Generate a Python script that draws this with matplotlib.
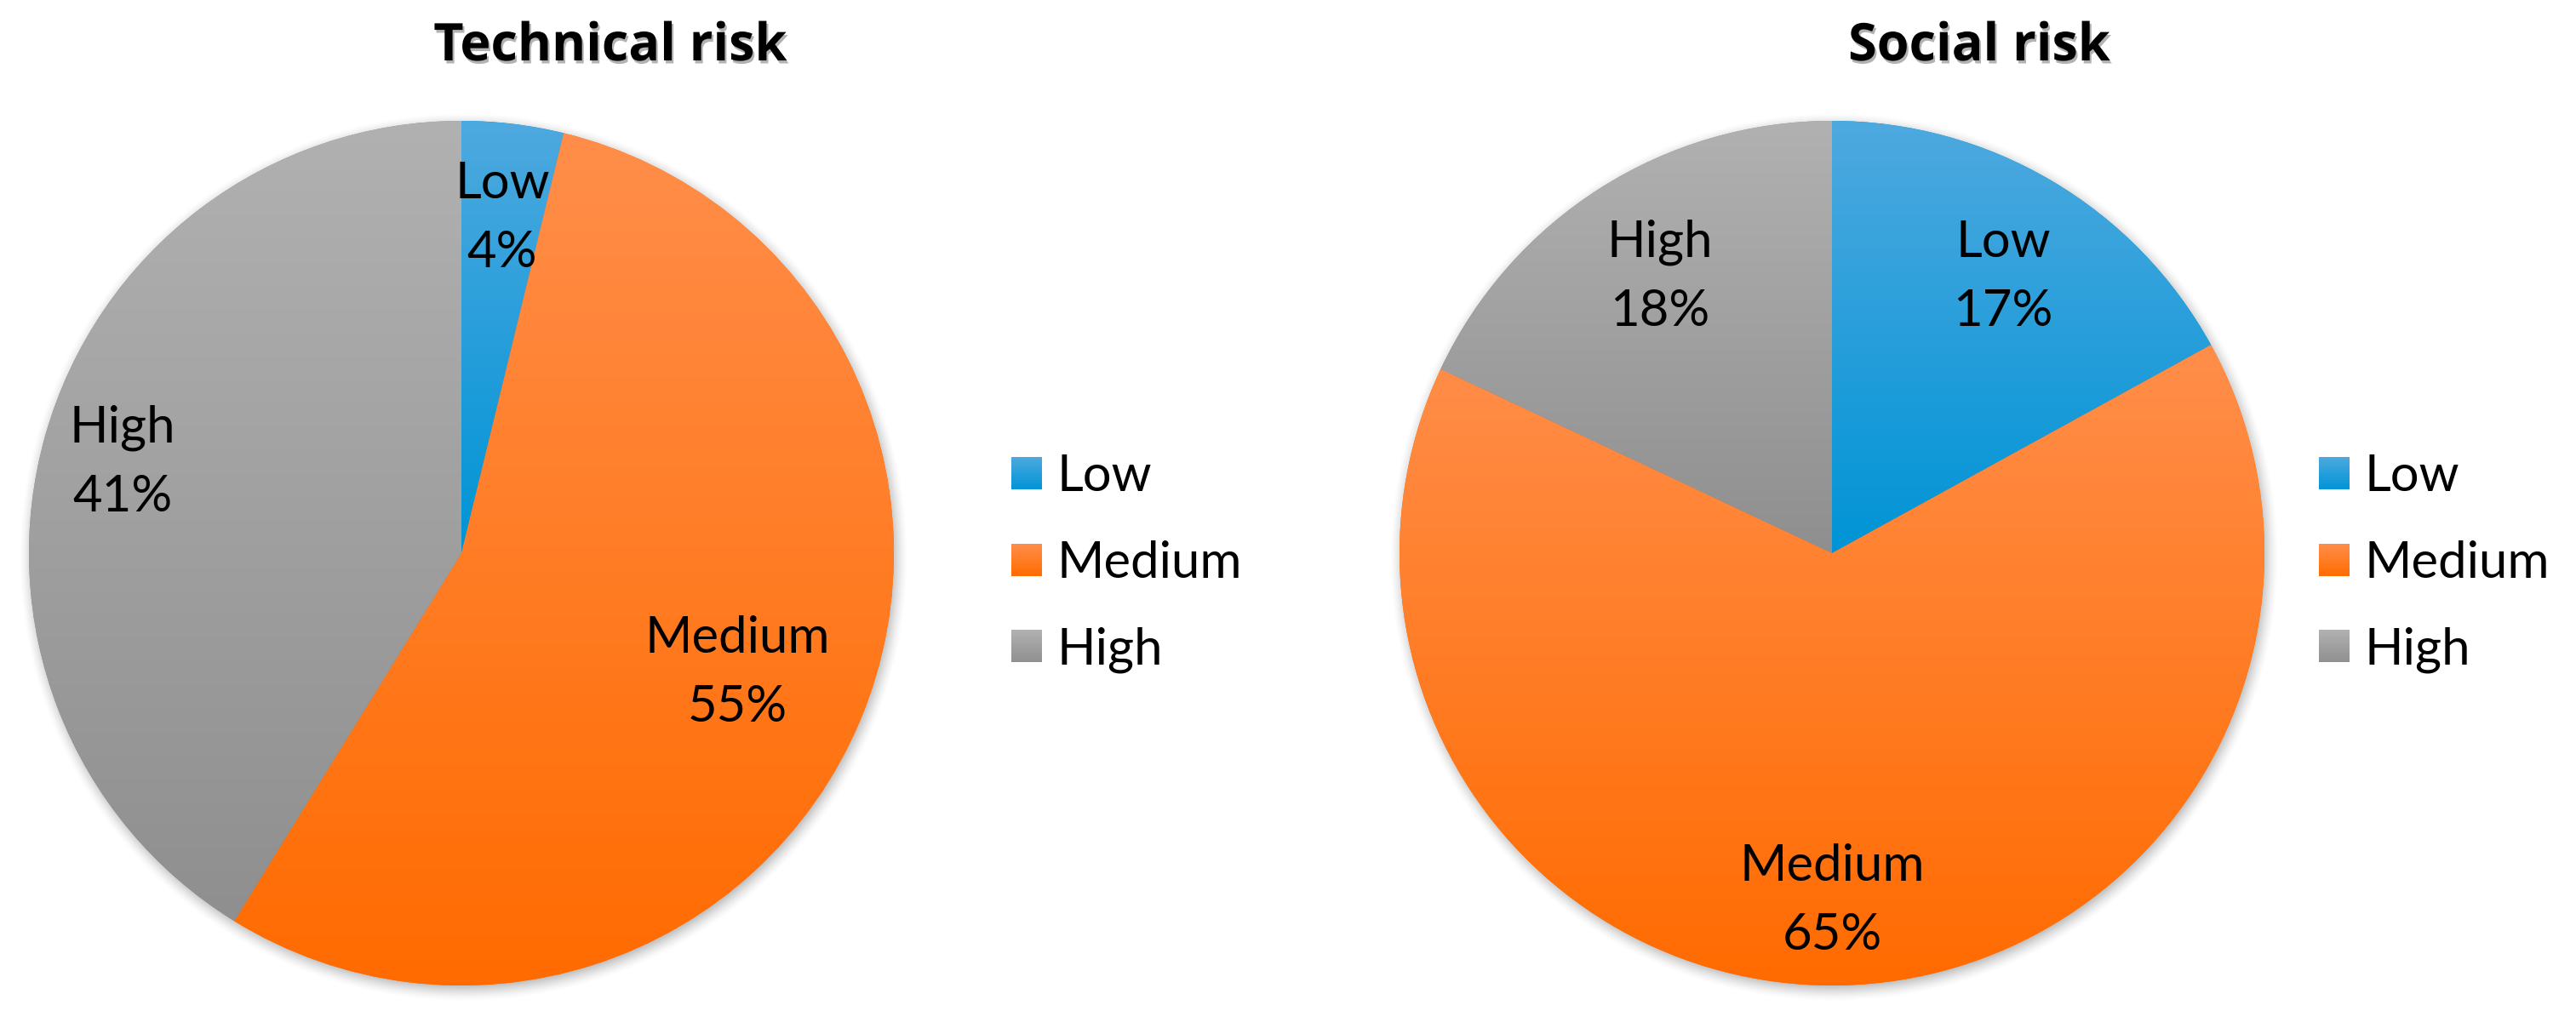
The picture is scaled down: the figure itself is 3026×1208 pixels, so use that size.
import numpy as np
import matplotlib
matplotlib.use('Agg')
import matplotlib.pyplot as plt
from matplotlib.patches import Rectangle
from matplotlib.legend_handler import HandlerBase
from matplotlib import patheffects as pe
from matplotlib.colors import to_rgb

# ---------------- data ----------------
categories = ['Low', 'Medium', 'High']
technical_values = [3.8, 55.0, 41.2]
social_values = [17.0, 65.0, 18.0]
titles = ['Technical risk', 'Social risk']

# ---------------- style ----------------
grad_top = ['#4ea9df', '#ff8e4a', '#b1b1b1']
grad_bottom = ['#0094d6', '#ff6b00', '#8f8f8f']
FONT = 'Lato'
TITLE_FONT = 'Open Sans'

W, H = 3026, 1208
DPI = 100
fig = plt.figure(figsize=(W / DPI, H / DPI), dpi=DPI)

R_PX = 508          # pie radius in pixels
PAD = 1.06          # axes half-size in radius units
centers = [(542, 650), (2152, 650)]
title_x = [717, 2325]
title_base = 71
legend_x = [1188, 2724]
legend_cy = 662
# label block centres (radius units relative to pie centre)
label_pos = [
    [(0.094, 0.783), (0.638, -0.268), (-0.783, 0.219)],
    [(0.396, 0.648), (0.0, -0.795), (-0.398, 0.648)],
]
LINE = 81 / R_PX
HALF_CAP = 21.5 / R_PX
FS = 43


def gradient(top, bottom, n=256):
    t = np.linspace(0, 1, n)[:, None, None]
    c0 = np.array(to_rgb(top))[None, None, :]
    c1 = np.array(to_rgb(bottom))[None, None, :]
    return c0 * (1 - t) + c1 * t


class GradHandler(HandlerBase):
    def __init__(self, top, bottom, n=14):
        super().__init__()
        self.top = np.array(to_rgb(top))
        self.bottom = np.array(to_rgb(bottom))
        self.n = n

    def create_artists(self, legend, orig_handle, xdescent, ydescent,
                       width, height, fontsize, trans):
        arts = []
        for j in range(self.n):
            t = (j + 0.5) / self.n
            col = self.top * (1 - t) + self.bottom * t
            y = -ydescent + height * (1 - (j + 1) / self.n)
            r = Rectangle((-xdescent, y), width, height / self.n * 1.05,
                          facecolor=col, edgecolor='none', transform=trans)
            arts.append(r)
        return arts


def draw_shadow(ax):
    n = 700
    xs = np.linspace(-PAD, PAD, n)
    X, Y = np.meshgrid(xs, xs[::-1])
    d = np.hypot(X - 0.004, Y + 0.010)
    w = 0.03
    a = np.clip((1 + w - d) / (2 * w), 0, 1) ** 1.5 * 0.5
    rgba = np.zeros((n, n, 4))
    rgba[..., 3] = a
    ax.imshow(rgba, extent=(-PAD, PAD, -PAD, PAD), origin='upper', zorder=0,
              interpolation='bilinear')


for k, values in enumerate([technical_values, social_values]):
    cx, cy = centers[k]
    half = PAD * R_PX
    ax = fig.add_axes([(cx - half) / W, (H - cy - half) / H, 2 * half / W, 2 * half / H])
    draw_shadow(ax)
    wedges, _ = ax.pie(values, startangle=90, counterclock=False, colors=grad_bottom,
                       radius=1, wedgeprops=dict(linewidth=0, zorder=1))
    for i, w in enumerate(wedges):
        ext = w.get_path().get_extents()
        im = ax.imshow(gradient(grad_top[i], grad_bottom[i]),
                       extent=(ext.x0, ext.x1, ext.y0, ext.y1), origin='upper',
                       aspect='auto', zorder=2, interpolation='bilinear')
        im.set_clip_path(w)
    total = sum(values)
    for i, (cat, v) in enumerate(zip(categories, values)):
        dx, dy = label_pos[k][i]
        ax.text(dx, dy + LINE / 2 - HALF_CAP, cat, ha='center', va='baseline',
                fontsize=FS, family=FONT, zorder=5)
        ax.text(dx, dy - LINE / 2 - HALF_CAP, f'{v / total * 100:.0f}%', ha='center',
                va='baseline', fontsize=FS, family=FONT, zorder=5)
    ax.set_xlim(-PAD, PAD)
    ax.set_ylim(-PAD, PAD)
    ax.set_aspect('equal')
    ax.axis('off')

    hmap = {w: GradHandler(grad_top[i], grad_bottom[i]) for i, w in enumerate(wedges)}
    ax.legend(wedges, categories, handler_map=hmap, loc='center left',
              bbox_to_anchor=(legend_x[k] / W, (H - legend_cy) / H),
              bbox_transform=fig.transFigure, frameon=False, borderpad=0,
              borderaxespad=0, handlelength=0.6, handleheight=0.6,
              handletextpad=0.3, labelspacing=0.8,
              prop=dict(family=FONT, size=FS))

    fig.text(title_x[k] / W, (H - title_base) / H, titles[k], ha='center', va='baseline',
             fontsize=44, fontweight='bold', family=TITLE_FONT,
             path_effects=[pe.withSimplePatchShadow(offset=(1.5, -2.5), shadow_rgbFace='k',
                                                    alpha=0.3)])

fig.savefig('out.png', dpi=DPI, facecolor='white')
